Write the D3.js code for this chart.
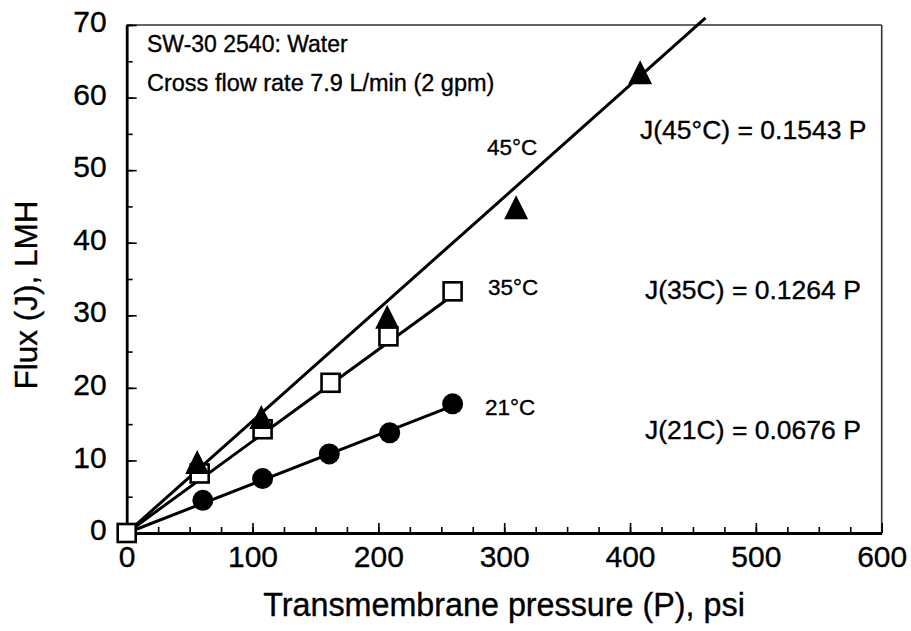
<!DOCTYPE html>
<html>
<head>
<meta charset="utf-8">
<script src="https://cdn.jsdelivr.net/npm/d3@7"></script>
<style>
  html, body { margin: 0; padding: 0; background: #fff; }
  svg { display: block; font-family: "Liberation Sans", Arial, sans-serif; }
  svg text { fill: #000; stroke: #000; stroke-width: 0.35px; }
</style>
</head>
<body>
<svg id="chart" width="911" height="631"></svg>
<script>
// Permeate flux vs transmembrane pressure, SW-30 2540 element, pure water
const xTicks = [0, 100, 200, 300, 400, 500, 600];
const yTicks = [0, 10, 20, 30, 40, 50, 60, 70];

// 21 °C (filled circles)
const p21 = [60.5, 108, 161, 209, 259];
const j21 = [4.5, 7.5, 10.9, 13.8, 17.8];
// 35 °C (open squares)
const p35 = [0, 58, 108, 162, 208, 259];
const j35 = [0, 8.2, 14.3, 20.7, 27.1, 33.3];
// 45 °C (filled triangles)
const p45 = [56, 107, 207, 309.5, 408];
const j45 = [9.8, 16, 29.8, 44.9, 63.5];

// Linear fits through the origin, J = k·P
const fitLabels = ["J(45°C) = 0.1543 P", "J(35C) = 0.1264 P", "J(21C) = 0.0676 P"];
const fitSlopes = [0.1543, 0.1264, 0.0676];
const fitEnds = [460, 259, 259];
const seriesNames = ["45°C", "35°C", "21°C"];

const svg = d3.select("#chart");
const plotL = 126.7, plotR = 881.7, plotT = 25, plotB = 533;

const x = d3.scaleLinear().domain([0, 600]).range([plotL, plotR]);
const y = d3.scaleLinear().domain([0, 70]).range([plotB, plotT]);

// frame
svg.append("line").attr("x1", plotL).attr("x2", plotR).attr("y1", plotT).attr("y2", plotT)
  .attr("stroke", "#333").attr("stroke-width", 1.6);
svg.append("line").attr("x1", plotR).attr("x2", plotR).attr("y1", plotT).attr("y2", plotB)
  .attr("stroke", "#333").attr("stroke-width", 1.6);

// minor ticks
svg.append("g").attr("transform", `translate(0,${plotB})`)
  .call(d3.axisBottom(x).tickValues(d3.range(0, 601, 25)).tickSize(-6).tickFormat(""))
  .call(g => g.select(".domain").remove())
  .call(g => g.selectAll("line").attr("stroke", "#000").attr("stroke-width", 1.6));
svg.append("g").attr("transform", `translate(${plotL},0)`)
  .call(d3.axisLeft(y).tickValues(d3.range(0, 71, 5)).tickSize(-6).tickFormat(""))
  .call(g => g.select(".domain").remove())
  .call(g => g.selectAll("line").attr("stroke", "#000").attr("stroke-width", 1.6));

// major axes
svg.append("g").attr("transform", `translate(0,${plotB})`)
  .call(d3.axisBottom(x).tickValues(xTicks).tickSize(-10).tickPadding(13).tickSizeOuter(0))
  .call(g => g.select(".domain").attr("stroke", "#000").attr("stroke-width", 2.8))
  .call(g => g.selectAll("line").attr("stroke", "#000").attr("stroke-width", 1.6))
  .call(g => g.selectAll("text")
    .style("font-size", "30px").style("font-family", "Liberation Sans, Arial, sans-serif"));
svg.append("g").attr("transform", `translate(${plotL},0)`)
  .call(d3.axisLeft(y).tickValues(yTicks).tickSize(-10).tickPadding(20).tickSizeOuter(0))
  .call(g => g.select(".domain").attr("stroke", "#000").attr("stroke-width", 2.8))
  .call(g => g.selectAll("line").attr("stroke", "#000").attr("stroke-width", 1.6))
  .call(g => g.selectAll("text").attr("dy", "0.22em")
    .style("font-size", "30px").style("font-family", "Liberation Sans, Arial, sans-serif"));

// axis titles
svg.append("text").attr("x", 504).attr("y", 616).attr("text-anchor", "middle")
  .style("font-size", "32.3px").text("Transmembrane pressure (P), psi");
svg.append("text").attr("transform", "translate(37,295) rotate(-90)").attr("text-anchor", "middle")
  .style("font-size", "31.5px").text("Flux (J), LMH");

// fit lines
const lineGen = d3.line().x(d => x(d[0])).y(d => y(d[1]));
fitSlopes.forEach((k, i) => {
  svg.append("path")
    .attr("d", lineGen([[0, 0], [fitEnds[i], k * fitEnds[i]]]))
    .attr("fill", "none").attr("stroke", "#000").attr("stroke-width", 3);
});

// markers
const sq = 18;
svg.append("g").selectAll("rect").data(d3.zip(p35, j35)).join("rect")
  .attr("x", d => x(d[0]) - sq / 2).attr("y", d => y(d[1]) - sq / 2)
  .attr("width", sq).attr("height", sq)
  .attr("fill", "#fff").attr("stroke", "#000").attr("stroke-width", 2.6);

svg.append("g").selectAll("circle").data(d3.zip(p21, j21)).join("circle")
  .attr("cx", d => x(d[0])).attr("cy", d => y(d[1])).attr("r", 10.5).attr("fill", "#000");

const tw = 24, th = 24;
svg.append("g").selectAll("path").data(d3.zip(p45, j45)).join("path")
  .attr("transform", d => `translate(${x(d[0])},${y(d[1])})`)
  .attr("d", `M0,${-th / 2}L${tw / 2},${th / 2}L${-tw / 2},${th / 2}Z`)
  .attr("fill", "#000");

// series labels
const seriesPos = [[487, 155], [488, 295], [485, 415]];
seriesNames.forEach((s, i) => {
  svg.append("text").attr("x", seriesPos[i][0]).attr("y", seriesPos[i][1])
    .style("font-size", "22.5px").text(s);
});

// fit equations
const eqPos = [[640, 139], [645, 299], [645, 439]];
fitLabels.forEach((s, i) => {
  svg.append("text").attr("x", eqPos[i][0]).attr("y", eqPos[i][1])
    .style("font-size", "26.5px").text(s);
});

// conditions note
svg.append("text").attr("x", 147).attr("y", 52).style("font-size", "23px").text("SW-30 2540: Water");
svg.append("text").attr("x", 147).attr("y", 91).style("font-size", "23.5px").text("Cross flow rate 7.9 L/min (2 gpm)");
</script>
</body>
</html>
